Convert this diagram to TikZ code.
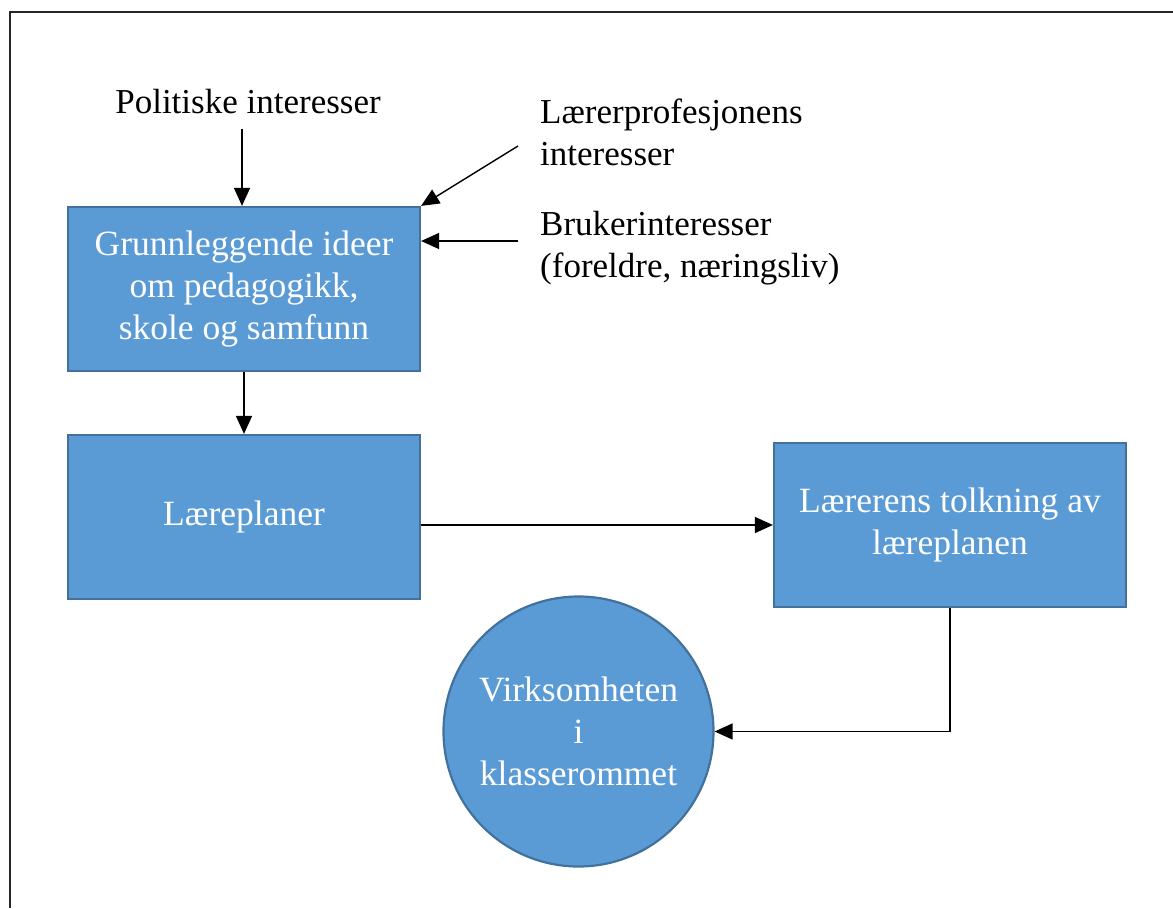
\documentclass[tikz,border=0pt]{standalone}
\usepackage{fontspec}
\setmainfont{Liberation Serif}
\usetikzlibrary{arrows.meta,shapes.geometric}
\definecolor{boxfill}{HTML}{5B9BD5}
\definecolor{boxdraw}{HTML}{41719C}
\tikzset{
  box/.style={draw=boxdraw, fill=boxfill, line width=2.2pt, minimum width=352pt, minimum height=164pt, inner sep=0pt, text=white, align=center, font=\fontsize{35.5}{42}\selectfont},
  circ/.style={draw=boxdraw, fill=boxfill, line width=2.2pt, circle, minimum size=270pt, inner sep=0pt, text=white, align=center, font=\fontsize{35.5}{42}\selectfont},
  lbl/.style={inner sep=0pt, align=left, font=\fontsize{35}{42}\selectfont},
  arr/.style={draw=black, line width=1.4pt, -{Triangle[length=18pt,width=16pt]}},
  frame/.style={draw=black!85, line width=2pt}
}
\begin{document}
\begin{tikzpicture}[x=1pt,y=-1pt]
\useasboundingbox (0,0) rectangle (1173,908);
\draw[frame] (9.5,908) -- (9.5,11.5) -- (1173,11.5);

\node[box] (b1) at (244,289) {Grunnleggende ideer\\om pedagogikk,\\skole og samfunn};
\node[box] (b2) at (244,517) {Læreplaner};
\node[box] (b3) at (950,525) {Lærerens tolkning av\\læreplanen};
\node[circ] (c) at (578.5,731.5) {Virksomheten\\i\\klasserommet};

\node[lbl, anchor=base] (pol) at (248,113) {Politiske interesser};
\node[lbl, anchor=base west] (lp) at (540,165) {Lærerprofesjonens\\interesser};
\node[lbl, anchor=base west] (bk) at (540,277) {Brukerinteresser\\(foreldre, næringsliv)};

\coordinate (polend) at (242,129);
\coordinate (lpend) at (518,146);
\coordinate (bkend) at (518,241);

\draw[arr] (polend) -- (polend |- b1.north);
\draw[arr] (lpend) -- (b1.north east);
\draw[arr] (bkend) -- (b1.east |- bkend);
\draw[arr] (b1.south) -- (b2.north);
\draw[arr] (b3.west -| b2.east) -- (b3.west);
\draw[arr] (b3.south) |- (c.east);
\end{tikzpicture}
\end{document}
